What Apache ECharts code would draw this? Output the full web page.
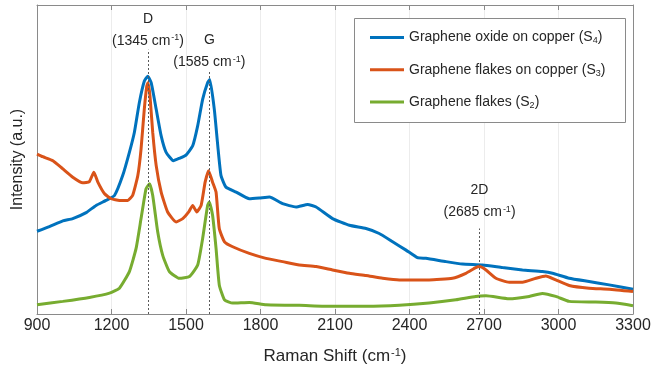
<!DOCTYPE html>
<html>
<head>
<meta charset="utf-8">
<script src="https://cdn.jsdelivr.net/npm/echarts@6/dist/echarts.min.js"></script>
<style>
html,body{margin:0;padding:0;background:#fff;}
#chart{width:654px;height:372px;}
</style>
</head>
<body>
<div id="chart"></div>
<script>
// Raman shift (cm^-1) and intensity (a.u.)
var s4X = [900,950,1004,1044,1098,1138,1178,1212,1245,1272,1292,1312,1332,1346,1360,1380,1400,1420,1449,1473,1500,1527,1547,1567,1587,1596,1614,1628,1641,1661,1702,1755,1795,1836,1889,1943,1990,2024,2090,2158,2225,2278,2332,2386,2432,2466,2547,2613,2694,2774,2855,2935,2976,3043,3123,3204,3300];
var s4Y = [83.3,88,93.7,96,102,109.3,114.3,119.3,139.3,162.7,182.7,212.7,234.3,239.3,232.7,206,179.3,162.7,154.3,156.7,160,169.3,189.3,216,232.7,236,206,169.3,139.3,127.7,122.7,116,116.7,117.7,111,107.7,110.3,107.7,96,89.3,86,81,72.7,64.3,56.7,56,52.7,50.3,49.3,46.7,44.3,42.7,41,36,32.7,29.3,25];

var s3X = [900,923,964,1004,1044,1084,1111,1129,1145,1172,1199,1232,1265,1285,1306,1319,1332,1342,1347,1355,1366,1380,1400,1426,1460,1487,1511,1527,1543,1561,1577,1591,1607,1621,1634,1655,1688,1755,1822,1889,1956,2024,2090,2158,2225,2292,2359,2426,2479,2573,2627,2667,2683,2708,2748,2801,2855,2909,2949,2989,3043,3123,3204,3300];
var s3Y = [161,158.3,154.3,146,137.7,132,133.3,142.7,132.7,121,116,114.3,114.3,119.3,139.3,166,206,229.3,232.7,219.3,182.7,149.3,122.7,102.7,92.7,96,102.7,109.3,102.7,109.3,132.7,144.3,132.7,122.7,86,72.7,67.7,61,56,52.7,49.3,47.7,44.3,41,38.7,36,34.3,34.3,34.3,36,41,46.7,47.7,44.3,36,32,32,36,38.3,34.3,28.7,26,25,22.7];

var s2X = [900,1004,1111,1192,1232,1272,1299,1319,1339,1353,1366,1386,1406,1433,1473,1514,1547,1567,1587,1594,1607,1621,1634,1655,1688,1755,1822,1956,2090,2225,2359,2479,2587,2667,2708,2801,2882,2935,2989,3043,3150,3231,3300];
var s2Y = [9.3,12.7,16.7,21,26,42.7,66,96,126,131,119.3,82.7,59.3,42.7,36,37.7,49.3,76,109.3,112.7,99.3,66,29.3,14.3,11,11.7,9.3,8.7,7.7,7.7,8.7,11,14.3,17.7,18.3,15.3,17.7,20.7,17.7,12.7,12,11,8.3];

var seriesNames = ['Graphene oxide on copper (S4)','Graphene flakes on copper (S3)','Graphene flakes (S2)'];
var legendMain = ['Graphene oxide on copper (S','Graphene flakes on copper (S','Graphene flakes (S'];
var legendSub = ['4','3','2'];

var peakNames = ['D','G','2D'];
var peakLabels = ['1345','1585','2685'];
var peakLineX = [1347,1594,2682];
var peakLineTop = [266,244,86];

var xTicks = [900,1200,1500,1800,2100,2400,2700,3000,3300];

function zip(xs, ys){ return xs.map(function(x,i){ return [x, ys[i]]; }); }

var FONT = '"Liberation Sans", Arial, Helvetica, sans-serif';
var TXT = '#262626';
var AX = '#8a8a8a';
var colors = ['#0072BD','#D95319','#77AC30'];

var peakLabelDist = [-2,-2,5];
var markData = peakNames.map(function(n,i){
  return [
    {coord:[peakLineX[i], 0], label:{distance: peakLabelDist[i]}},
    {coord:[peakLineX[i], peakLineTop[i]]}
  ];
});

var chart = echarts.init(document.getElementById('chart'), null, {renderer:'canvas'});
var dataSets = [zip(s4X,s4Y), zip(s3X,s3Y), zip(s2X,s2Y)];

var series = dataSets.map(function(d,i){
  return {
    name: seriesNames[i],
    type: 'line',
    data: d,
    showSymbol: false,
    symbol: 'none',
    smooth: 0.15,
    lineStyle: {color: colors[i], width: 3},
    itemStyle: {color: colors[i]},
    z: 2 + i,
    animation: false
  };
});
series[0].markLine = {
  silent: true,
  symbol: ['none','none'],
  animation: false,
  lineStyle: {type: [2,2], color: '#5a5a5a', width: 1},
  label: {
    show: true,
    position: 'end',
    formatter: function(p){
      var i = p.dataIndex;
      return '{b|' + peakNames[i] + '}\n{b|(' + peakLabels[i] + ' cm}{sup|-1}{b|)}';
    },
    fontFamily: FONT,
    color: TXT,
    rich: {
      b: {fontSize: 14, lineHeight: 22, fontFamily: FONT, color: TXT},
      sup: {fontSize: 9, lineHeight: 10, verticalAlign: 'top', padding:[3,0,0,1], fontFamily: FONT, color: TXT}
    }
  },
  data: markData
};

var axisLineStyle = {show: true, onZero: false, lineStyle: {color: AX, width: 1}};

chart.setOption({
  animation: false,
  backgroundColor: '#fff',
  grid: {left: 37, top: 5, right: 21, bottom: 56, containLabel: false},
  xAxis: [{
    type: 'value',
    min: 900, max: 3300, interval: 300,
    position: 'bottom',
    name: 'Raman Shift (cm{sup|-1})',
    nameLocation: 'middle',
    nameGap: 31,
    nameTextStyle: {
      fontSize: 17, fontFamily: FONT, color: TXT, lineHeight: 22,
      rich: {sup: {fontSize: 11, lineHeight: 12, verticalAlign: 'top', padding:[2,0,0,1], fontFamily: FONT, color: TXT}}
    },
    axisLine: axisLineStyle,
    axisTick: {show: true, inside: true, length: 5, lineStyle: {color: AX}},
    axisLabel: {fontSize: 16, fontFamily: FONT, color: TXT, margin: 4,
      formatter: function(v){ return xTicks.indexOf(v) >= 0 ? String(v) : ''; }},
    splitLine: {show: true, lineStyle: {color: '#ececec', width: 1}}
  },{
    type: 'value',
    min: 900, max: 3300, interval: 300,
    position: 'top',
    axisLine: axisLineStyle,
    axisTick: {show: true, inside: true, length: 5, lineStyle: {color: AX}},
    axisLabel: {show: false},
    splitLine: {show: false}
  }],
  yAxis: [{
    type: 'value',
    min: 0, max: 311,
    position: 'left',
    name: 'Intensity (a.u.)',
    nameLocation: 'middle',
    nameGap: 11,
    nameTextStyle: {fontSize: 16, fontFamily: FONT, color: TXT},
    axisLine: axisLineStyle,
    axisTick: {show: false},
    axisLabel: {show: false},
    splitLine: {show: false}
  },{
    type: 'value',
    min: 0, max: 311,
    position: 'right',
    axisLine: axisLineStyle,
    axisTick: {show: false},
    axisLabel: {show: false},
    splitLine: {show: false}
  }],
  graphic: [{
    type: 'rect',
    z: 10,
    shape: {x: 354.5, y: 18.5, width: 271, height: 104},
    style: {fill: '#fff', stroke: AX, lineWidth: 1}
  }],
  legend: {
    z: 20,
    orient: 'vertical',
    left: 370,
    top: 30.5,
    padding: 0,
    itemGap: 17.3,
    itemWidth: 34,
    itemHeight: 3,
    icon: 'rect',
    selectedMode: false,
    data: seriesNames,
    formatter: function(name){
      var i = seriesNames.indexOf(name);
      return '{t|' + legendMain[i] + '}{s|' + legendSub[i] + '}{t|)}';
    },
    textStyle: {
      fontFamily: FONT, color: TXT, fontSize: 14,
      rich: {
        t: {fontSize: 14, lineHeight: 16, fontFamily: FONT, color: TXT},
        s: {fontSize: 9, lineHeight: 6, verticalAlign: 'bottom', fontFamily: FONT, color: TXT}
      }
    }
  },
  series: series
});
</script>
</body>
</html>
